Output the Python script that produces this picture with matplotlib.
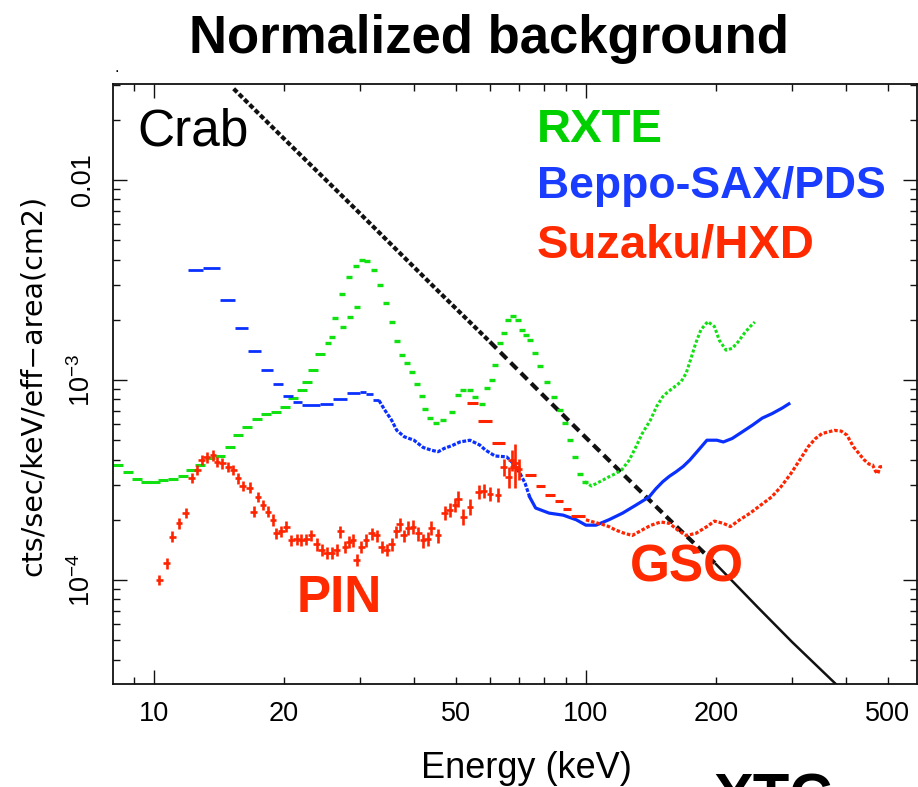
import matplotlib
matplotlib.use("Agg")
import matplotlib.pyplot as plt
import numpy as np
from matplotlib.ticker import FixedLocator, FuncFormatter, NullFormatter

plt.rcParams['font.family'] = ['Liberation Sans', 'DejaVu Sans']
plt.rcParams['mathtext.fontset'] = 'custom'
plt.rcParams['mathtext.rm'] = 'Liberation Sans'
plt.rcParams['mathtext.it'] = 'Liberation Sans:italic'
plt.rcParams['mathtext.bf'] = 'Liberation Sans:bold'

# ---------------- data ----------------
crab_e = [15.3, 20, 30, 45, 60, 80, 100, 130, 160, 200, 250, 300, 380]
crab_f = [2.86e-2, 1.61e-2, 6.8e-3, 2.85e-3, 1.55e-3, 8.3e-4, 5.15e-4,
          2.95e-4, 1.9e-4, 1.2e-4, 7.3e-5, 4.9e-5, 3.0e-5]

rxte_e = [8.25, 8.7, 9.14, 9.6, 10.05, 10.5, 11.1, 11.7, 12.2, 12.8,
          13.5, 14.2, 15.0, 15.65, 16.4, 17.3, 18.2, 19.2, 20.1, 21.0,
          22.0, 22.6, 23.3, 24.2, 25.3, 26.2, 27.3, 28.3, 29.3, 30.3,
          31.2, 32.3, 33.4, 34.4, 35.5, 36.5, 37.5, 38.5, 39.5, 40.6,
          41.7, 42.4, 43.5, 45.0, 46.7, 48.9, 50.6, 52.0, 53.9, 55.3,
          57.5, 58.9, 60.5, 61.6, 63.2, 64.5, 66.1, 67.8, 69.5, 71.2,
          72.6, 74.1, 76.1, 78.2, 81.2, 84.3, 87.0, 89.3, 91.7, 94.3,
          96.8, 99.4, 103, 109.5, 113, 117, 121, 126, 130.6, 135,
          141, 145.7, 150.6, 154.5, 158.8, 166, 170.6, 175, 179.6, 184.5,
          191.4, 198.4, 203.6, 211, 218, 225, 233, 240, 246]
rxte_f = [3.76e-4, 3.48e-4, 3.2e-4, 3.1e-4, 3.1e-4, 3.16e-4, 3.2e-4, 3.32e-4, 3.55e-4, 3.76e-4,
          4.07e-4, 4.17e-4, 4.64e-4, 5.3e-4, 5.84e-4, 6.37e-4, 6.76e-4, 6.93e-4, 7.36e-4, 8.1e-4,
          8.9e-4, 9.8e-4, 1.12e-3, 1.35e-3, 1.53e-3, 2.04e-3, 2.68e-3, 3.26e-3, 3.72e-3, 3.98e-3,
          3.94e-3, 3.55e-3, 2.97e-3, 2.42e-3, 1.96e-3, 1.57e-3, 1.33e-3, 1.22e-3, 1.1e-3, 9.5e-4,
          8.3e-4, 7.2e-4, 6.45e-4, 6.1e-4, 6.3e-4, 6.9e-4, 8.4e-4, 8.9e-4, 8.9e-4, 8.25e-4,
          7.6e-4, 9.1e-4, 1.0e-3, 1.19e-3, 1.53e-3, 1.71e-3, 2.0e-3, 2.09e-3, 2.0e-3, 1.78e-3,
          1.68e-3, 1.58e-3, 1.36e-3, 1.17e-3, 9.8e-4, 8.25e-4, 7.1e-4, 6.07e-4, 5.0e-4, 4.13e-4,
          3.4e-4, 3.1e-4, 2.95e-4, 3.16e-4, 3.28e-4, 3.4e-4, 3.55e-4, 3.98e-4, 4.64e-4, 5.4e-4,
          6.3e-4, 7.36e-4, 8.25e-4, 8.7e-4, 9.1e-4, 9.8e-4, 1.08e-3, 1.28e-3, 1.53e-3, 1.78e-3,
          1.96e-3, 1.85e-3, 1.58e-3, 1.41e-3, 1.44e-3, 1.55e-3, 1.72e-3, 1.85e-3, 1.95e-3]
rxte2_e = [25.8, 27.4, 28.4, 29.5]
rxte2_f = [1.65e-3, 1.85e-3, 2.07e-3, 2.33e-3]

pds_lo = [12.0, 13.0, 14.2, 15.4, 16.5, 17.7, 18.9, 19.9, 21.0, 22.0, 24.2, 26.0, 28.0, 30.0, 31.0, 32.2]
pds_hi = [13.0, 14.2, 15.4, 16.5, 17.7, 18.9, 19.9, 21.0, 22.0, 24.2, 26.0, 28.0, 30.0, 31.0, 32.2, 33.2]
pds_bf = [3.55e-3, 3.62e-3, 2.51e-3, 1.83e-3, 1.40e-3, 1.12e-3, 9.5e-4, 8.3e-4,
          7.8e-4, 7.5e-4, 7.6e-4, 8.0e-4, 8.6e-4, 8.75e-4, 8.5e-4, 7.9e-4]
pds_e = [33.2, 34.2, 35.5, 36.5, 38.0, 40.0, 42.0, 44.0, 45.5, 47.0,
         49.0, 51.1, 53.9, 56.8, 58.5, 61.6, 65.5, 67.9, 70.3, 72.3,
         74.1, 76.5, 82.2, 88.6, 95, 100, 105.5, 113, 121.6, 130.6,
         140, 145, 150.6, 156, 161.8, 168, 174, 183.6, 190.6, 201,
         208, 218, 230, 243, 256, 270, 285, 295]
pds_f = [7.9e-4, 7.1e-4, 6.3e-4, 5.6e-4, 5.2e-4, 5.0e-4, 4.6e-4, 4.45e-4, 4.38e-4, 4.55e-4,
         4.7e-4, 4.9e-4, 5.0e-4, 4.73e-4, 4.47e-4, 4.17e-4, 4.13e-4, 3.83e-4, 3.43e-4, 3.05e-4,
         2.6e-4, 2.29e-4, 2.16e-4, 2.11e-4, 2.0e-4, 1.88e-4, 1.88e-4, 2.0e-4, 2.16e-4, 2.37e-4,
         2.6e-4, 2.85e-4, 3.1e-4, 3.3e-4, 3.48e-4, 3.7e-4, 3.98e-4, 4.55e-4, 5.0e-4, 5.0e-4,
         4.9e-4, 5.1e-4, 5.5e-4, 5.95e-4, 6.45e-4, 6.8e-4, 7.25e-4, 7.6e-4]

pin_e = [10.29, 10.7, 11.04, 11.44, 11.84, 12.23, 12.6, 12.9, 13.25, 13.7,
         14.0, 14.4, 14.86, 15.26, 15.67, 16.04, 16.68, 17.03, 17.43, 17.9,
         18.38, 18.88, 19.2, 19.74, 20.27, 20.8, 21.4, 21.95, 22.55, 23.15,
         23.8, 24.45, 25.1, 25.8, 26.5, 27.0, 27.7, 28.3, 28.9, 29.45,
         30.2, 31.0, 31.9, 32.8, 33.7, 34.6, 35.5, 36.4, 37.1, 37.9,
         38.8, 39.8, 40.9, 42.0, 43.0, 43.9, 45.5, 47.1, 48.4, 49.8,
         50.7, 52.0, 53.9, 56.5, 58.0, 60.0, 62.6, 64.5, 66.2, 67.4,
         68.6, 69.9]
pin_f = [1.0e-4, 1.21e-4, 1.65e-4, 1.92e-4, 2.16e-4, 3.25e-4, 3.55e-4, 4.0e-4, 4.1e-4, 4.2e-4,
         3.9e-4, 3.83e-4, 3.68e-4, 3.55e-4, 3.22e-4, 2.95e-4, 2.9e-4, 2.2e-4, 2.6e-4, 2.37e-4,
         2.2e-4, 2.0e-4, 1.71e-4, 1.75e-4, 1.85e-4, 1.58e-4, 1.6e-4, 1.59e-4, 1.6e-4, 1.67e-4,
         1.51e-4, 1.42e-4, 1.37e-4, 1.37e-4, 1.41e-4, 1.75e-4, 1.46e-4, 1.55e-4, 1.58e-4, 1.26e-4,
         1.46e-4, 1.58e-4, 1.71e-4, 1.67e-4, 1.46e-4, 1.41e-4, 1.51e-4, 1.75e-4, 1.9e-4, 1.67e-4,
         1.82e-4, 1.85e-4, 1.71e-4, 1.58e-4, 1.6e-4, 1.82e-4, 1.67e-4, 2.16e-4, 2.24e-4, 2.37e-4,
         2.55e-4, 2.07e-4, 2.33e-4, 2.75e-4, 2.8e-4, 2.7e-4, 2.66e-4, 3.68e-4, 3.28e-4, 3.98e-4,
         3.83e-4, 3.6e-4]
pin_rel_err = [0.06, 0.06, 0.06, 0.06, 0.06, 0.06, 0.06, 0.06, 0.06, 0.06,
               0.06, 0.06, 0.06, 0.06, 0.06, 0.06, 0.06, 0.06, 0.06, 0.06,
               0.065, 0.065, 0.065, 0.065, 0.065, 0.065, 0.065, 0.065, 0.065, 0.065,
               0.07, 0.07, 0.07, 0.07, 0.07, 0.07, 0.07, 0.07, 0.07, 0.07,
               0.07, 0.07, 0.07, 0.07, 0.07, 0.07, 0.07, 0.07, 0.07, 0.07,
               0.08, 0.08, 0.08, 0.08, 0.08, 0.08, 0.08, 0.08, 0.08, 0.08,
               0.09, 0.09, 0.09, 0.08, 0.08, 0.08, 0.08, 0.10, 0.12, 0.12,
               0.25, 0.12]
pin_bin_frac = 0.018

gso_lo = [53.2, 56.3, 60.7, 66.6, 72.3, 76.8, 80.3, 84.6, 88.3, 92.5]
gso_hi = [56.3, 60.7, 64.9, 70.3, 76.5, 80.3, 84.6, 88.3, 92.5, 99.5]
gso_bf = [7.7e-4, 6.27e-4, 4.82e-4, 3.68e-4, 3.35e-4, 2.95e-4, 2.66e-4, 2.47e-4, 2.26e-4, 2.1e-4]
gso_e = [100, 104, 109, 113, 117, 122, 128, 135, 141.6, 149,
         156, 163, 170.6, 179.6, 190.6, 198.4, 208, 216, 227, 240,
         254, 269, 283, 298, 313, 327, 340, 352, 376, 390,
         402, 416, 440, 452, 461, 468, 474, 479, 487]
gso_f = [2.0e-4, 1.95e-4, 1.9e-4, 1.85e-4, 1.78e-4, 1.72e-4, 1.67e-4, 1.78e-4, 1.88e-4, 1.95e-4,
         1.92e-4, 1.78e-4, 1.67e-4, 1.71e-4, 1.85e-4, 1.97e-4, 1.92e-4, 1.85e-4, 2.0e-4, 2.16e-4,
         2.37e-4, 2.6e-4, 2.93e-4, 3.4e-4, 4.0e-4, 4.64e-4, 5.1e-4, 5.4e-4, 5.6e-4, 5.55e-4,
         5.3e-4, 4.64e-4, 4.0e-4, 3.8e-4, 3.76e-4, 3.5e-4, 3.4e-4, 3.68e-4, 3.7e-4]

x_ticklabels = {10: "10", 20: "20", 50: "50", 100: "100", 200: "200", 500: "500"}
y_ticklabels = {1e-2: "0.01", 1e-3: r"$10^{-3}$", 1e-4: r"$10^{-4}$"}

# ---------------- styling ----------------
GREEN = '#11e011'
BLUE = '#0a30ff'
RED = '#ff2400'
W, H = 918, 787

def fx(x):
    return x / W

def fy(y):
    return 1 - y / H

fig = plt.figure(figsize=(W / 100, H / 100), dpi=100)
ax = fig.add_axes([fx(112.7), fy(684), (916.7 - 112.7) / W, (684 - 84.3) / H])
ax.set_xscale('log')
ax.set_yscale('log')
ax.set_xlim(8.03, 583)
ax.set_ylim(3.02e-5, 3.01e-2)

# Crab power law (three rendering regimes)
ce = np.array(crab_e); cf = np.array(crab_f)
ax.plot(ce[0:5], cf[0:5], color='#111111', lw=3.0, dashes=(1.2, 0.6), solid_capstyle='butt')
ax.plot(ce[4:10], cf[4:10], color='#111111', lw=3.0, dashes=(2.2, 1.3))
ax.plot(ce[9:], cf[9:], color='#111111', lw=1.8)

# RXTE
re = np.array(rxte_e); rf = np.array(rxte_f)
lo = re < 25
mid = (re >= 25) & (re <= 101)
hi = re >= 99
ax.plot(re[lo], rf[lo], ls='none', marker='_', ms=6.5, mew=2.2, color=GREEN)
ax.plot(re[mid], rf[mid], ls='none', marker='_', ms=3.8, mew=2.4, color=GREEN)
ax.plot(rxte2_e, rxte2_f, ls='none', marker='_', ms=3.8, mew=2.4, color=GREEN)
ax.plot(re[hi], rf[hi], color=GREEN, lw=2.2, dashes=(1.0, 0.7))

# Beppo-SAX/PDS
ax.hlines(pds_bf, pds_lo, pds_hi, colors=BLUE, lw=2.0)
pe = np.array(pds_e); pf = np.array(pds_f)
m1 = pe <= 75
m2 = pe >= 74
ax.plot(pe[m1], pf[m1], color=BLUE, lw=2.3, dashes=(1.2, 0.5))
ax.plot(pe[m2], pf[m2], color=BLUE, lw=2.3)

# Suzaku PIN
pe_ = np.array(pin_e); pf_ = np.array(pin_f); perr = np.array(pin_rel_err)
ax.errorbar(pe_, pf_, xerr=pe_ * pin_bin_frac, yerr=pf_ * perr, fmt='none',
            ecolor=RED, elinewidth=1.9, capsize=0)

# Suzaku GSO
ax.hlines(gso_bf, gso_lo, gso_hi, colors=RED, lw=2.2)
ax.plot(gso_e, gso_f, color=RED, lw=2.3, dashes=(1.1, 0.6))

# ---------------- axes / ticks ----------------
ax.xaxis.set_major_locator(FixedLocator([10, 100]))
ax.xaxis.set_minor_locator(FixedLocator([9, 20, 30, 40, 50, 60, 70, 80, 90, 200, 300, 400, 500]))
fmt_x = FuncFormatter(lambda v, p: x_ticklabels.get(int(round(v)), ""))
ax.xaxis.set_major_formatter(fmt_x)
ax.xaxis.set_minor_formatter(fmt_x)

ax.yaxis.set_major_locator(FixedLocator([1e-4, 1e-3, 1e-2]))
yminor = [m * d for d in (1e-5, 1e-4, 1e-3, 1e-2) for m in range(2, 10)]
ax.yaxis.set_minor_locator(FixedLocator(yminor))
def fmt_y(v, p):
    for k, s in y_ticklabels.items():
        if abs(np.log10(v) - np.log10(k)) < 1e-6:
            return s
    return ""
ax.yaxis.set_major_formatter(FuncFormatter(fmt_y))
ax.yaxis.set_minor_formatter(NullFormatter())

ax.tick_params(which='both', direction='in', top=True, right=True, width=1.0, color='#111111')
ax.tick_params(which='major', length=10)
ax.tick_params(which='minor', length=5)
ax.tick_params(axis='x', which='both', labelsize=19.5, pad=12)
ax.tick_params(axis='y', which='both', labelsize=19.5, pad=12, labelrotation=90)
for lab in ax.get_yticklabels():
    lab.set_verticalalignment('center')
for s in ax.spines.values():
    s.set_linewidth(1.3)
    s.set_color('#111111')

# ---------------- texts ----------------
fig.text(fx(489), fy(53), "Normalized background", fontsize=38, fontweight='bold',
         ha='center', va='baseline')
fig.text(fx(526), fy(778), "Energy (keV)", fontsize=26, ha='center', va='baseline')
fig.text(fx(33), fy(385), "cts/sec/keV/eff\u2212area(cm2)", fontsize=20.5,
         family=['DejaVu Sans'], rotation=90, ha='center', va='center')
fig.text(fx(137), fy(145), "Crab", fontsize=37, ha='left', va='baseline')
fig.text(fx(537), fy(142), "RXTE", fontsize=34, fontweight='bold', color='#00d000',
         ha='left', va='baseline')
fig.text(fx(537), fy(198), "Beppo-SAX/PDS", fontsize=32, fontweight='bold', color='#1a3cff',
         ha='left', va='baseline')
fig.text(fx(537), fy(257), "Suzaku/HXD", fontsize=34, fontweight='bold', color='#ff2a00',
         ha='left', va='baseline')
fig.text(fx(297), fy(612), "PIN", fontsize=37, fontweight='bold', color='#ff2a00',
         ha='left', va='baseline')
fig.text(fx(630), fy(582), "GSO", fontsize=37, fontweight='bold', color='#ff2a00',
         ha='left', va='baseline')
fig.text(fx(713), fy(815), "XTC", fontsize=43, fontweight='bold', ha='left', va='baseline')
fig.text(fx(115), fy(72), ".", fontsize=12, ha='left', va='baseline')

fig.savefig("out.png", dpi=100)
